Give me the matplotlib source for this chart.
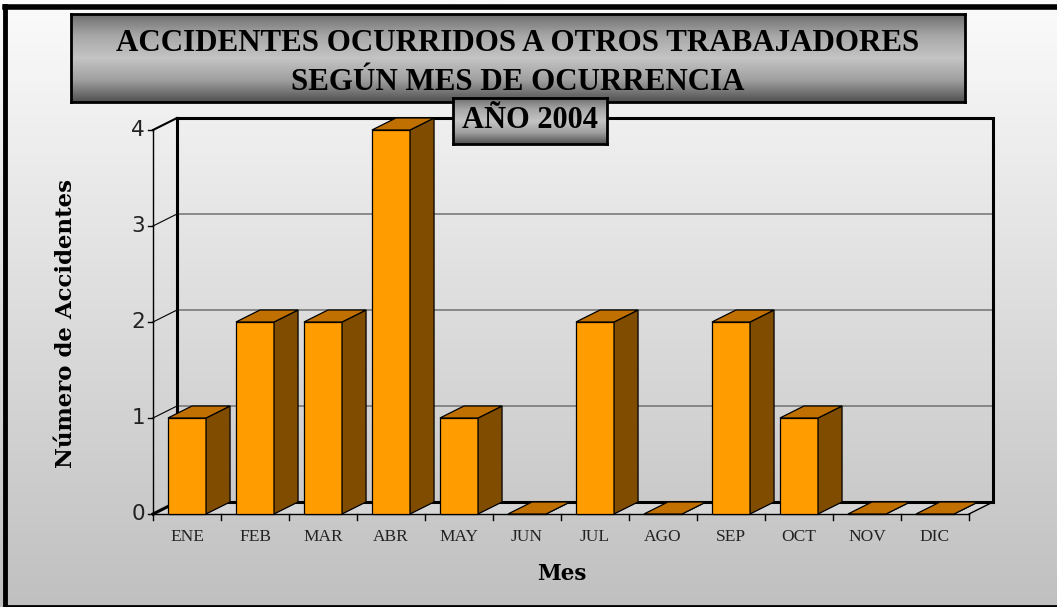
import matplotlib
matplotlib.use("Agg")
import matplotlib.pyplot as plt
import numpy as np
from matplotlib.patches import Polygon
from matplotlib.colors import LinearSegmentedColormap

# datos
meses = ["ENE", "FEB", "MAR", "ABR", "MAY", "JUN", "JUL", "AGO", "SEP", "OCT", "NOV", "DIC"]
accidentes = [1, 2, 2, 4, 1, 0, 2, 0, 2, 1, 0, 0]
y_ticks = [0, 1, 2, 3, 4]

titulo = "ACCIDENTES OCURRIDOS A OTROS TRABAJADORES\nSEGÚN MES DE OCURRENCIA"
subtitulo = "AÑO 2004"

W, H = 1057, 607
fig = plt.figure(figsize=(W / 100, H / 100), dpi=100)

# fondo degradado
bg = fig.add_axes([0, 0, 1, 1], zorder=-10)
grad = np.linspace(0, 1, 256).reshape(-1, 1)
cmap_bg = LinearSegmentedColormap.from_list("bg", ["#fbfbfb", "#c0c0c0"])
bg.imshow(grad, aspect="auto", cmap=cmap_bg, extent=[0, 1, 0, 1])
bg.set_xlim(0, 1)
bg.set_ylim(0, 1)
bg.axis("off")
# marco negro
bg.plot([5 / W, 5 / W], [0, 1 - 6 / H], color="black", lw=3.5)
bg.plot([5 / W, 1], [1 - 6.5 / H, 1 - 6.5 / H], color="black", lw=4)
bg.plot([5 / W, 1], [1.5 / H, 1.5 / H], color="black", lw=2)

# ejes principales: 1 categoria = 68 px, 1 unidad = 96 px
px_x, px_y = 68.0, 96.0
x0_px, y0_px = 153.0, 514.0
xl = (-0.6, 12.6)
yl = (-0.3, 4.3)
left = (x0_px + xl[0] * px_x) / W
width = (xl[1] - xl[0]) * px_x / W
bottom = (H - (y0_px - yl[0] * px_y)) / H
height = (yl[1] - yl[0]) * px_y / H
ax = fig.add_axes([left, bottom, width, height])
ax.set_xlim(*xl)
ax.set_ylim(*yl)
ax.axis("off")
ax.patch.set_alpha(0)

DX = 24 / px_x
DY = 12 / px_y
n = len(meses)
ymax = max(y_ticks)

# piso
ax.add_patch(Polygon([(0, 0), (n, 0), (n + DX, DY), (DX, DY)],
                     closed=True, facecolor="#d6d6d6", edgecolor="none", zorder=1))

# lineas de cuadricula en pared trasera y lateral
for t in y_ticks[1:-1]:
    ax.plot([DX, n + DX], [t + DY, t + DY], color="#7a7a7a", lw=1.2, zorder=2)
    ax.plot([0, DX], [t, t + DY], color="black", lw=0.8, zorder=2)

# pared trasera
ax.plot([DX, n + DX, n + DX, DX, DX], [DY, DY, ymax + DY, ymax + DY, DY],
        color="black", lw=2.2, zorder=3, solid_joinstyle="miter")
ax.plot([0, DX], [0, DY], color="black", lw=2.2, zorder=3)
ax.plot([0, DX], [ymax, ymax + DY], color="black", lw=1.5, zorder=3)
ax.plot([0, 0], [0, ymax], color="black", lw=1.0, zorder=3)
ax.plot([0, n], [0, 0], color="black", lw=1.0, zorder=3)
ax.plot([n, n + DX], [0, DY], color="black", lw=1.0, zorder=3)

# ticks
for t in y_ticks:
    ax.plot([-5 / px_x, 0], [t, t], color="black", lw=1.0, zorder=3)
    ax.text(-8 / px_x, t, str(t), ha="right", va="center", fontsize=15.5,
            family="DejaVu Sans", color="#222222")
for i in range(n + 1):
    ax.plot([i, i], [0, -6 / px_y], color="black", lw=1.0, zorder=3)
for i, m in enumerate(meses):
    ax.text(i + 0.5, -23 / px_y, m, ha="center", va="center", fontsize=12.5,
            family="Liberation Serif", color="#222222")

# barras 3D
front, side, top = "#ff9c00", "#7f4c00", "#c07000"
bw = 0.56
ax.bar([i + 0.5 for i in range(n)], accidentes, width=bw, color=front,
       edgecolor="black", lw=0.9, zorder=5)
for i, v in enumerate(accidentes):
    a, b = i + 0.5 - bw / 2, i + 0.5 + bw / 2
    ax.add_patch(Polygon([(b, 0), (b + DX, DY), (b + DX, v + DY), (b, v)], closed=True,
                         facecolor=side, edgecolor="black", lw=0.9, zorder=5))
    ax.add_patch(Polygon([(a, v), (b, v), (b + DX, v + DY), (a + DX, v + DY)], closed=True,
                         facecolor=top, edgecolor="black", lw=0.9, zorder=5))

# etiquetas de ejes
fig.text(66 / W, 1 - 323 / H, "Número de Accidentes", rotation=90, ha="center", va="center",
         fontsize=16.5, fontweight="bold", family="DejaVu Serif")
fig.text(562 / W, 1 - 574 / H, "Mes", ha="center", va="center",
         fontsize=15.5, fontweight="bold", family="DejaVu Serif")

# cajas de titulo con degradado
cmap_box = LinearSegmentedColormap.from_list("box", ["#6e6e6e", "#a8a8a8", "#c4c4c4", "#a0a0a0", "#505050"])


def caja(x1, y1, x2, y2, texto, fs, ls=1.2, yc=0.5):
    bx = fig.add_axes([x1 / W, 1 - y2 / H, (x2 - x1) / W, (y2 - y1) / H], zorder=10)
    bx.imshow(grad, aspect="auto", cmap=cmap_box, extent=[0, 1, 0, 1])
    bx.set_xlim(0, 1)
    bx.set_ylim(0, 1)
    bx.set_xticks([])
    bx.set_yticks([])
    for s in bx.spines.values():
        s.set_linewidth(2)
        s.set_color("black")
    bx.text(0.5, yc, texto, ha="center", va="center", fontsize=fs, fontweight="bold",
            family="Liberation Serif", linespacing=ls, transform=bx.transAxes)


caja(71, 14, 965, 102, titulo, 22.3, 1.45, 0.44)
caja(453, 98, 607, 144, subtitulo, 22)

fig.savefig("out.png", dpi=100)
